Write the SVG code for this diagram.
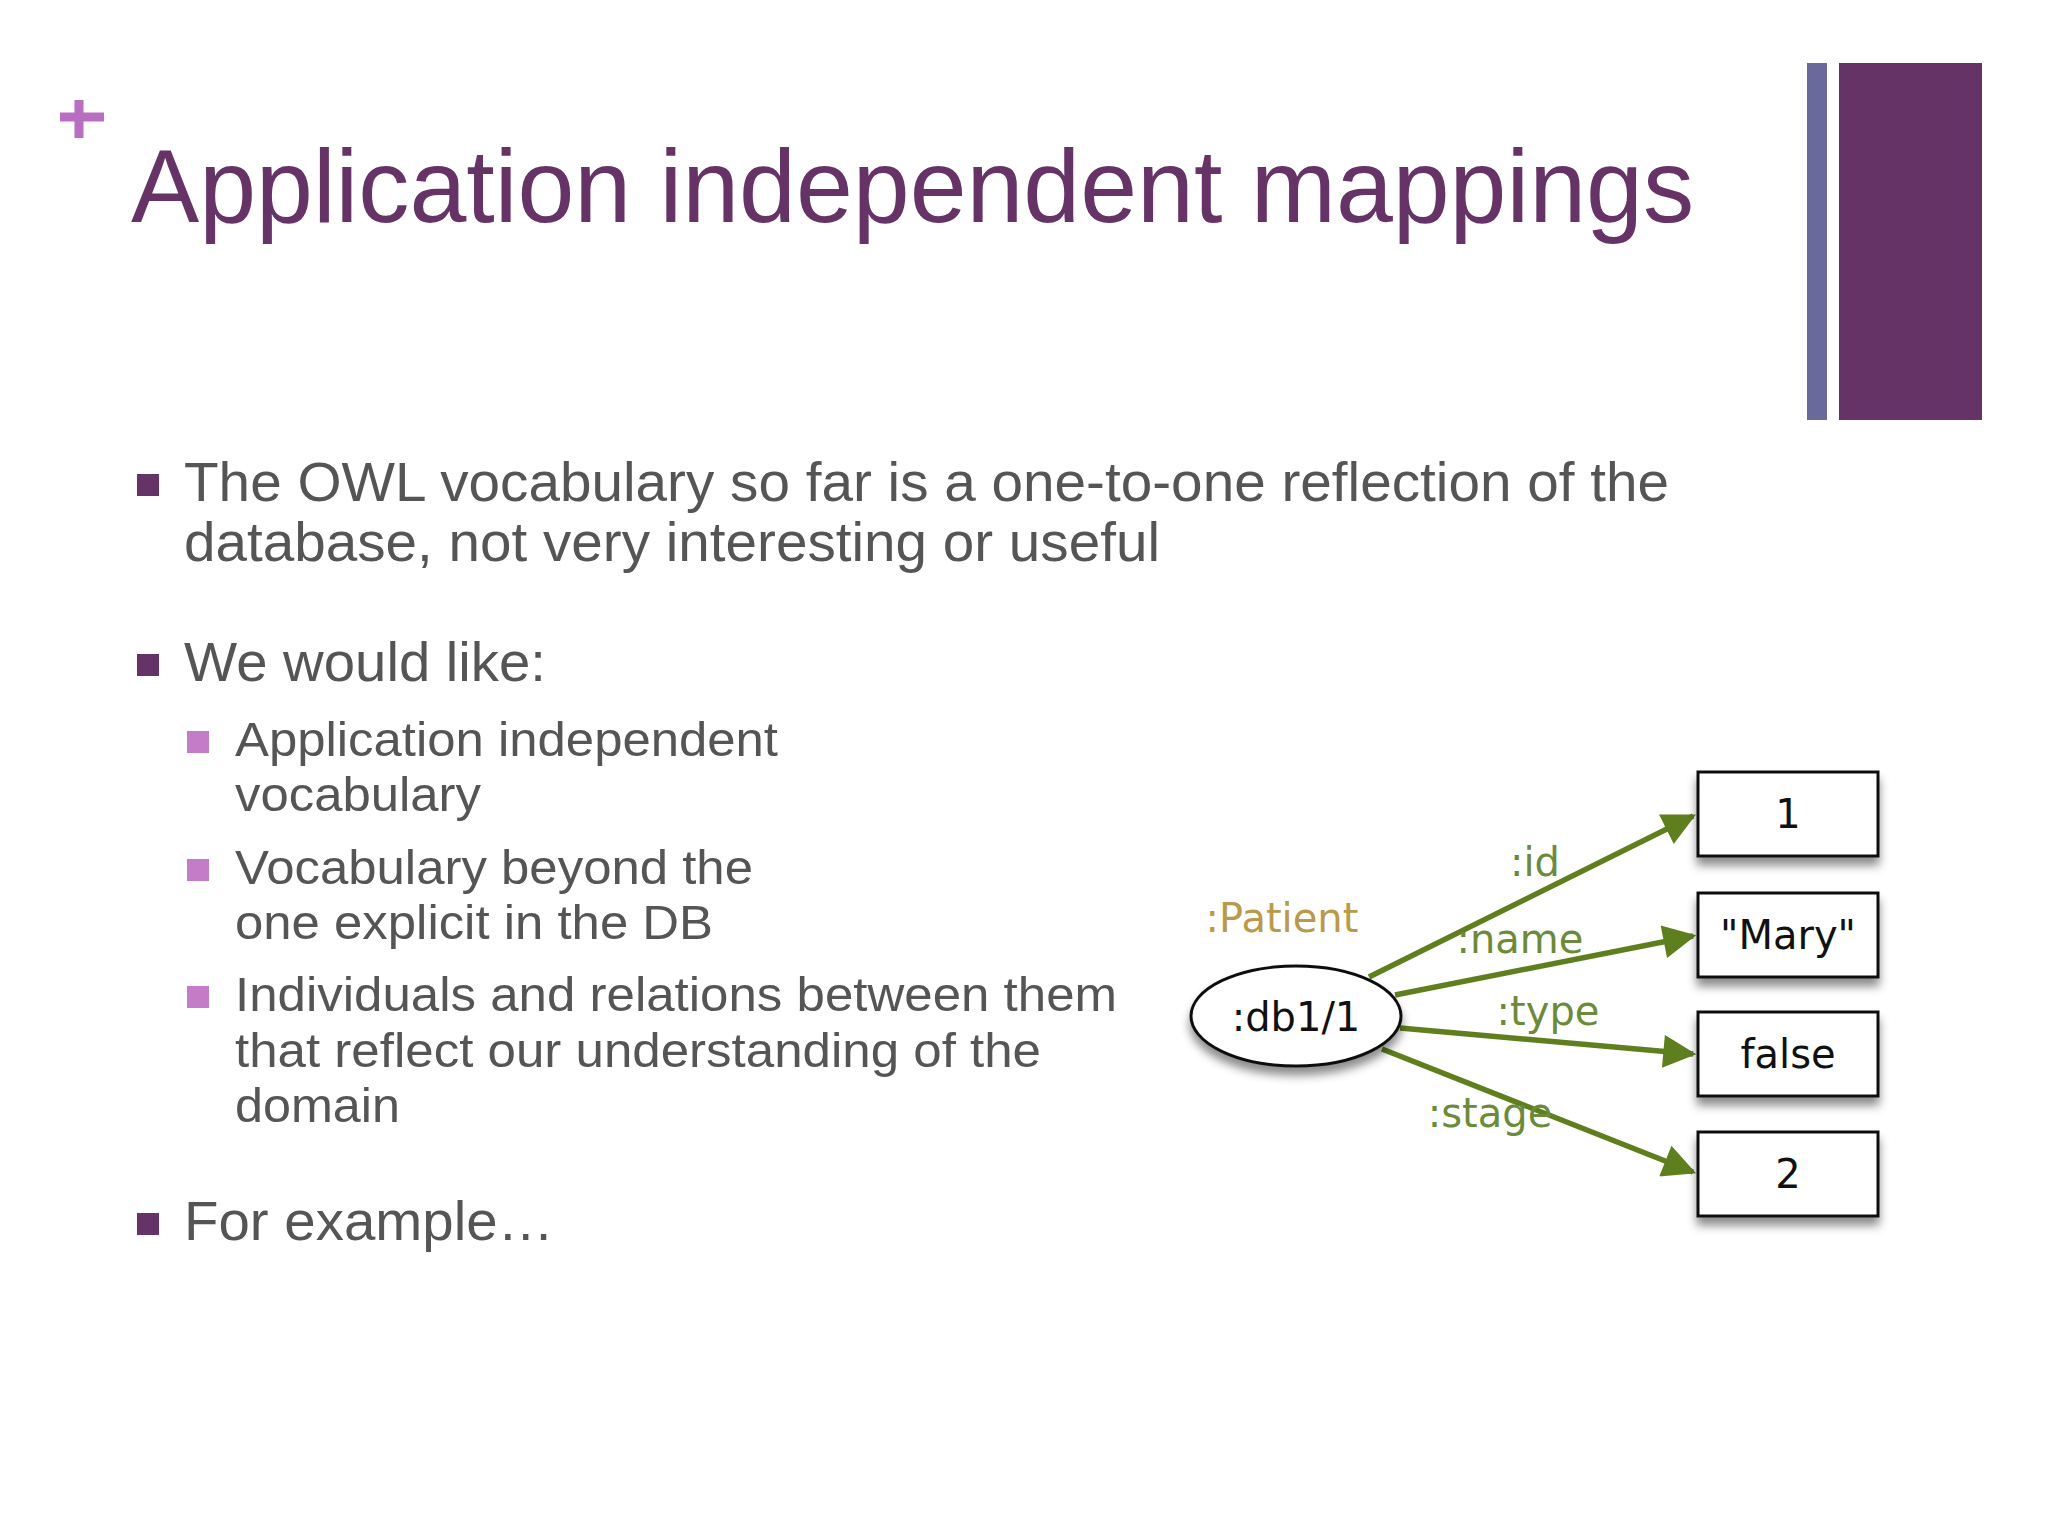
<svg xmlns="http://www.w3.org/2000/svg" width="2048" height="1536" viewBox="0 0 2048 1536">
<style>
.t{font-family:"Liberation Sans",Arial,sans-serif;fill:#555;}
.b{font-size:55px}.s{font-size:49px}
.d{font-family:"DejaVu Sans",Verdana,sans-serif;font-size:40px;text-anchor:middle}
.lbl{fill:#6b8a3a}
.box{fill:#fff;stroke:#111;stroke-width:3}
.edge{stroke:#5f7f1f;stroke-width:5.5;fill:none;marker-end:url(#ah)}
</style>
<defs>
<marker id="ah" viewBox="0 0 10 10" refX="9" refY="5" markerWidth="7" markerHeight="6" orient="auto" markerUnits="strokeWidth"><path d="M0,0L10,5L0,10z" fill="#5f7f1f"/></marker>
<filter id="sh" x="-20%" y="-20%" width="140%" height="160%"><feDropShadow dx="0" dy="8" stdDeviation="5" flood-color="#000" flood-opacity="0.45"/></filter>
</defs>
<rect width="2048" height="1536" fill="#fff"/>
<path d="M79,100V138M60,117H104" stroke="#b86fc0" stroke-width="9"/>
<rect x="1807" y="63" width="20" height="357" fill="#69699c"/>
<rect x="1839" y="63" width="143" height="357" fill="#663366"/>
<text x="131" y="222" font-family="Liberation Sans,Arial,sans-serif" font-size="104" fill="#663366" textLength="1563" lengthAdjust="spacingAndGlyphs">Application independent mappings</text>
<g fill="#663366"><rect x="137" y="474" width="22" height="22"/><rect x="137" y="654" width="22" height="22"/><rect x="137" y="1213" width="22" height="22"/></g>
<g fill="#c47cc8"><rect x="187" y="731" width="22" height="22"/><rect x="187" y="859" width="22" height="22"/><rect x="187" y="986" width="22" height="22"/></g>
<text class="t b" x="184" y="501" textLength="1485" lengthAdjust="spacingAndGlyphs">The OWL vocabulary so far is a one-to-one reflection of the</text>
<text class="t b" x="184" y="561" textLength="976" lengthAdjust="spacingAndGlyphs">database, not very interesting or useful</text>
<text class="t b" x="184" y="681" textLength="362" lengthAdjust="spacingAndGlyphs">We would like:</text>
<text class="t s" x="235" y="756" textLength="543" lengthAdjust="spacingAndGlyphs">Application independent</text>
<text class="t s" x="235" y="811" textLength="246" lengthAdjust="spacingAndGlyphs">vocabulary</text>
<text class="t s" x="235" y="884" textLength="518" lengthAdjust="spacingAndGlyphs">Vocabulary beyond the</text>
<text class="t s" x="235" y="939" textLength="478" lengthAdjust="spacingAndGlyphs">one explicit in the DB</text>
<text class="t s" x="235" y="1011" textLength="882" lengthAdjust="spacingAndGlyphs">Individuals and relations between them</text>
<text class="t s" x="235" y="1067" textLength="806" lengthAdjust="spacingAndGlyphs">that reflect our understanding of the</text>
<text class="t s" x="235" y="1122" textLength="165" lengthAdjust="spacingAndGlyphs">domain</text>
<text class="t b" x="184" y="1240" textLength="370" lengthAdjust="spacingAndGlyphs">For example…</text>
<g id="connectors">
<line class="edge" x1="1369" y1="977" x2="1693" y2="816"/>
<line class="edge" x1="1395" y1="995" x2="1693" y2="936"/>
<line class="edge" x1="1400" y1="1028" x2="1693" y2="1054"/>
<line class="edge" x1="1382" y1="1049" x2="1693" y2="1172"/>
<text class="d lbl" x="1535" y="876">:id</text>
<text class="d lbl" x="1520" y="953">:name</text>
<text class="d lbl" x="1548" y="1025">:type</text>
<text class="d lbl" x="1490" y="1127">:stage</text>
</g>
<g id="db1"><ellipse cx="1296" cy="1016" rx="105" ry="50" fill="#fff" stroke="#111" stroke-width="3" filter="url(#sh)"/><text class="d" x="1296" y="1031" fill="#111">:db1/1</text>
<text class="d" x="1282" y="932" fill="#b89a4a">:Patient</text></g>
<g id="n1"><rect class="box" x="1698" y="772" width="180" height="84" filter="url(#sh)"/><text class="d" x="1788" y="828" fill="#111">1</text></g>
<g id="n2"><rect class="box" x="1698" y="893" width="180" height="84" filter="url(#sh)"/><text class="d" x="1788" y="949" fill="#111">"Mary"</text></g>
<g id="n3"><rect class="box" x="1698" y="1012" width="180" height="84" filter="url(#sh)"/><text class="d" x="1788" y="1068" fill="#111">false</text></g>
<g id="n4"><rect class="box" x="1698" y="1132" width="180" height="84" filter="url(#sh)"/><text class="d" x="1788" y="1188" fill="#111">2</text></g>
</svg>
